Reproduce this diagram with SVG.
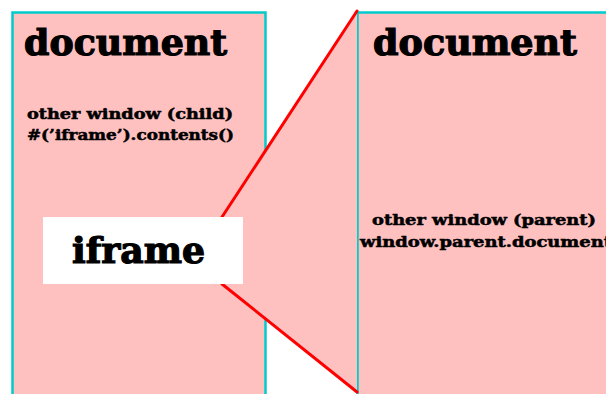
<svg xmlns="http://www.w3.org/2000/svg" width="606" height="394" viewBox="0 0 606 394">
  <style>
    .doc { fill: #ffc0c0; stroke: #00cccc; stroke-width: 2.5; }
    .txt { font-family: "DejaVu Serif", "Liberation Serif", serif; font-weight: bold; fill: #000; stroke: #000; }
    .big { font-size: 35px; stroke-width: 1.2; }
    .small { font-size: 14px; stroke-width: 0.5; }
    .link { stroke: #ff0000; stroke-width: 3; fill: none; stroke-linecap: round; }
  </style>
  <rect width="606" height="394" fill="#ffffff"/>

  <!-- child document (outer page) -->
  <g id="child-document">
    <rect class="doc" x="12.5" y="12.5" width="253" height="400"/>
    <text class="txt big" x="24" y="55" textLength="203" lengthAdjust="spacingAndGlyphs">document</text>
    <text class="txt small" x="27" y="119" textLength="206" lengthAdjust="spacingAndGlyphs">other window (child)</text>
    <text class="txt small" x="27" y="140" textLength="207" lengthAdjust="spacingAndGlyphs">#(’iframe’).contents()</text>
  </g>

  <!-- parent document (zoomed view) -->
  <g id="parent-document">
    <rect class="doc" x="357.5" y="12.5" width="270" height="400"/>
    <text class="txt big" x="373" y="55" textLength="204" lengthAdjust="spacingAndGlyphs">document</text>
    <text class="txt small" x="372" y="225" textLength="224" lengthAdjust="spacingAndGlyphs">other window (parent)</text>
    <text class="txt small" x="360" y="247" textLength="252" lengthAdjust="spacingAndGlyphs">window.parent.document</text>
  </g>

  <!-- zoom wedge from the iframe to the parent document -->
  <g id="connectors">
    <polygon points="222,217 357,11 357,392 222,284" fill="#ffc0c0"/>
    <line class="link" x1="222" y1="217" x2="357" y2="11"/>
    <line class="link" x1="222" y1="284" x2="357" y2="392"/>
  </g>

  <!-- iframe label -->
  <g id="iframe">
    <rect x="43" y="217" width="200" height="67" fill="#ffffff"/>
    <text class="txt big" x="72" y="263" textLength="133" lengthAdjust="spacingAndGlyphs">iframe</text>
  </g>
</svg>
